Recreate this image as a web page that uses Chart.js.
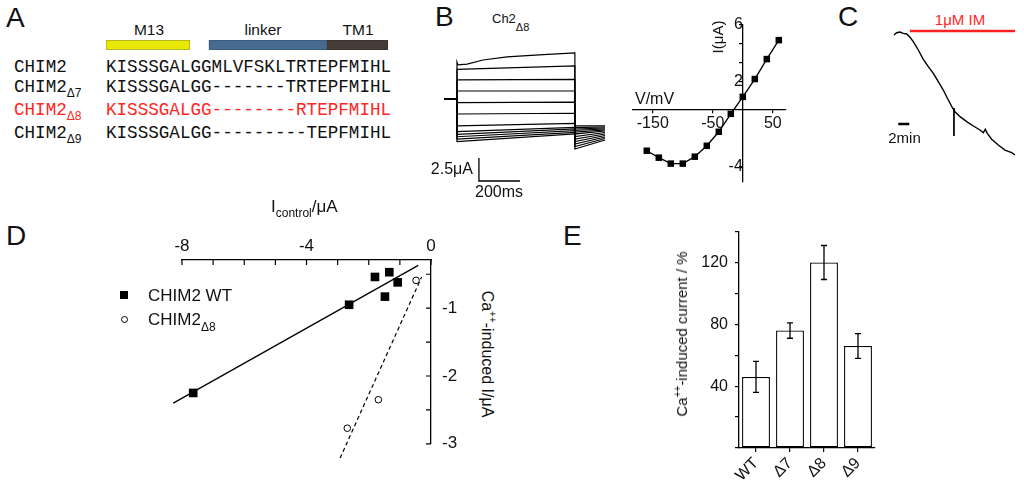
<!DOCTYPE html>
<html>
<head>
<meta charset="utf-8">
<script src="https://cdn.jsdelivr.net/npm/chart.js@4.4.1/dist/chart.umd.min.js"></script>
<style>
  body { margin: 0; background: #fff; }
  #fig { position: relative; width: 1024px; height: 486px; overflow: hidden;
         font-family: "Liberation Sans", Arial, sans-serif; color: #111; }
  #fig canvas { position: absolute; }
  .t { position: absolute; line-height: 1; white-space: nowrap; }
  .c { transform: translate(-50%, -50%); }
  .l { transform: translate(0, -50%); }
  .r { transform: translate(-100%, -50%); }
  .panel { font-size: 28px; }
  .mono { font-family: "Liberation Mono", "Courier New", monospace; font-size: 17.6px; }
  .sb { position: relative; font-family: "Liberation Sans", Arial, sans-serif; }
  .red { color: #ff2626; }
</style>
</head>
<body>
<div id="fig">
  <!-- A: alignment -->
  <div class="t l panel" style="left:6px;top:18px">A</div>
  <div class="t c" style="left:149px;top:29.5px;font-size:15.5px">M13</div>
  <div class="t c" style="left:263px;top:29.5px;font-size:15.5px">linker</div>
  <div class="t c" style="left:358px;top:29.5px;font-size:15.5px">TM1</div>
  <canvas id="cDomains" width="285" height="10" style="left:106px;top:40px"></canvas>
  <div class="t l mono" style="left:14px;top:67.5px">CHIM2</div>
  <div class="t l mono" style="left:14px;top:87.5px">CHIM2<span class="sb" style="font-size:12px;top:5px">Δ7</span></div>
  <div class="t l mono red" style="left:14px;top:110.5px">CHIM2<span class="sb" style="font-size:12px;top:5px">Δ8</span></div>
  <div class="t l mono" style="left:14px;top:133.5px">CHIM2<span class="sb" style="font-size:12px;top:5px">Δ9</span></div>
  <div class="t l mono" style="left:106px;top:67.5px">KISSSGALGGMLVFSKLTRTEPFMIHL</div>
  <div class="t l mono" style="left:106px;top:87.5px">KISSSGALGG-------TRTEPFMIHL</div>
  <div class="t l mono red" style="left:106px;top:110.5px">KISSSGALGG--------RTEPFMIHL</div>
  <div class="t l mono" style="left:106px;top:133.5px">KISSSGALGG---------TEPFMIHL</div>

  <!-- B: traces and IV -->
  <div class="t l panel" style="left:435px;top:17px">B</div>
  <div class="t l" style="left:492px;top:17.5px;font-size:13px">Ch2<span class="sb" style="font-size:11px;top:8px">Δ8</span></div>
  <canvas id="cTraces" width="180" height="145" style="left:440px;top:45px"></canvas>
  <div class="t r" style="left:473px;top:168.5px;font-size:16px">2.5μA</div>
  <div class="t l" style="left:475px;top:191.5px;font-size:16px">200ms</div>
  <canvas id="cIV" width="175" height="185" style="left:620px;top:10px"></canvas>
  <div class="t l" style="left:635px;top:99px;font-size:16px">V/mV</div>
  <div class="t c" style="left:717px;top:37px;font-size:15px;transform:translate(-50%,-50%) rotate(-90deg)">I(μA)</div>

  <!-- C: IM wash-in -->
  <div class="t l panel" style="left:838px;top:17px">C</div>
  <div class="t c red" style="left:960px;top:19px;font-size:15px">1μM IM</div>
  <canvas id="cIM" width="140" height="145" style="left:880px;top:20px"></canvas>
  <div class="t c" style="left:904.5px;top:136.5px;font-size:15px">2min</div>

  <!-- D: scatter -->
  <div class="t l panel" style="left:6px;top:236px">D</div>
  <div class="t l" style="left:271px;top:206px;font-size:17px">I<span class="sb" style="font-size:12px;top:5px">control</span>/μA</div>
  <canvas id="cD" width="320" height="240" style="left:150px;top:225px"></canvas>
  <div style="position:absolute;left:120px;top:291px;width:8px;height:8px;background:#000"></div>
  <div class="t l" style="left:148px;top:295px;font-size:17px">CHIM2 WT</div>
  <div style="position:absolute;left:120.5px;top:315.5px;width:5px;height:5px;border:1px solid #000;border-radius:50%"></div>
  <div class="t l" style="left:148px;top:318.5px;font-size:17px">CHIM2<span class="sb" style="font-size:12px;top:6px">Δ8</span></div>
  <div class="t c" style="left:488px;top:354px;font-size:16px;transform:translate(-50%,-50%) rotate(90deg)">Ca<sup style="font-size:10px">++</sup>-induced I/μA</div>

  <!-- E: bars -->
  <div class="t l panel" style="left:563px;top:236px">E</div>
  <canvas id="cE" width="230" height="271" style="left:660px;top:215px"></canvas>
  <div class="t c" style="left:681px;top:334px;font-size:15px;transform:translate(-50%,-50%) rotate(-90deg)">Ca<sup style="font-size:10px">++</sup>-induced current / %</div>
</div>

<script>
// ---- A: domain annotation, in residue positions along the alignment ----
const domainNames = ["M13", "linker", "TM1"];
const domainStart = [0, 9.75, 20.9];
const domainEnd = [7.95, 20.9, 26.7];

// ---- B: voltage-clamp traces (ms, uA) ----
const holdStart = -63;
const pulseEnd = 575;
const tailEnd = 722;
const stepStart = [4.02, 3.23, 2.07, 0.87, -0.40, -1.63, -2.93, -3.55, -3.84, -4.10, -4.35, -4.64];
const stepEnd = [5.00, 3.59, 2.14, 0.87, -0.33, -1.55, -2.64, -3.08, -3.26, -3.45, -3.62, -3.80];
const tailFrom = [-2.93, -3.10, -3.26, -3.42, -3.59, -3.80, -4.08, -4.35, -4.62, -4.89, -5.16, -5.43];
const tailTo = [-2.93, -3.04, -3.15, -3.26, -3.37, -3.48, -3.64, -3.80, -3.97, -4.13, -4.29, -4.46];
const topTraceT = [5, 49, 127, 244, 400];
const topTraceI = [3.70, 3.80, 4.24, 4.57, 4.80];

// ---- B: IV relation ----
const ivVoltage = [-160, -140, -120, -100, -80, -60, -40, -20, 0, 20, 40, 60];
const ivCurrent = [-2.89, -3.38, -3.80, -3.80, -3.31, -2.54, -1.55, -0.28, 0.92, 2.18, 3.59, 4.93];
const ivTicksV = [-150, -50, 50];
const ivTicksI = [-4, 2, 3.33, 4.67, 6];
const ivLabelsI = [-4, 2, 6];

// ---- C: current during IM application (min, normalised) ----
const imTime = [0, 0.49, 1.09, 1.69, 2.31, 2.91, 3.51, 4.42, 5.33, 6.24, 7.15, 8.05, 8.96, 9.87, 10.67,
  11.09, 12.0, 13.22, 14.42, 15.64, 16.24, 16.6, 16.96, 17.76, 18.96, 20.18, 21.4, 22.0];
const imCurrent = [0.968, 0.986, 0.992, 0.981, 0.976, 0.949, 0.914, 0.847, 0.772, 0.712, 0.659, 0.591, 0.524, 0.444, 0.377,
  0.349, 0.309, 0.269, 0.234, 0.202, 0.180, 0.207, 0.175, 0.127, 0.081, 0.040, 0.019, 0.0];
const imOn = 2.9;
const imOff = 22.0;
const markTime = 10.9;
const markRange = [0.379, 0.153];

// ---- D: Ca-induced vs control current ----
const wtControl = [-7.64, -2.63, -1.80, -1.34, -1.07, -1.48];
const wtInduced = [-2.25, -0.95, -0.54, -0.47, -0.62, -0.83];
const d8Control = [-0.48, -1.69, -2.69];
const d8Induced = [-0.59, -2.35, -2.77];
const wtFitX = [-8.28, -0.41];
const wtFitY = [-2.40, -0.37];
const d8FitX = [-2.92, -0.30];
const d8FitY = [-3.21, -0.54];
const dCtrlTicks = [-8, -7, -6, -5, -4, -3, -2, -1, 0];
const dCtrlLabels = [-8, -4, 0];
const dIndTicks = [-3, -2.5, -2, -1.5, -1, -0.5];
const dIndLabels = [-3, -2, -1];

// ---- E: Ca-induced current, % ----
const groups = ["WT", "Δ7", "Δ8", "Δ9"];
const induced = [46, 76, 120, 66];
const sem = [10, 5, 11, 8];
const eTickLabels = [40, 80, 120];

Chart.defaults.font.family = '"Liberation Sans", Arial, sans-serif';
Chart.defaults.color = '#111';
Chart.defaults.animation = false;
Chart.defaults.plugins.legend.display = false;
Chart.defaults.plugins.tooltip.enabled = false;

const pts = (xs, ys) => xs.map((x, i) => ({ x: x, y: ys[i] }));
const hidden = (min, max) => ({ type: 'linear', display: false, min: min, max: max });

// domain bars
new Chart(document.getElementById('cDomains'), {
  type: 'bar',
  data: {
    labels: ['domain'],
    datasets: domainNames.map((name, i) => ({
      label: name,
      data: [[domainStart[i], domainEnd[i]]],
      backgroundColor: ['#e8e800', '#466b8f', '#463c37'][i],
      borderColor: ['#a8a830', '#3a5775', '#3a322d'][i],
      borderWidth: 1,
      borderSkipped: false,
      barPercentage: 1,
      categoryPercentage: 1,
      grouped: false
    }))
  },
  options: {
    indexAxis: 'y',
    responsive: false,
    scales: { x: hidden(0, 27), y: { display: false } }
  }
});

// current traces
const traceSets = stepStart.map((s, k) => {
  let mid = [{ x: 0, y: s }];
  if (k === 0) mid = mid.concat(pts(topTraceT, topTraceI));
  return {
    data: [{ x: holdStart, y: 0 }, { x: 0, y: 0 }].concat(mid, [
      { x: pulseEnd, y: stepEnd[k] },
      { x: pulseEnd, y: tailFrom[k] },
      { x: tailEnd, y: tailTo[k] }
    ]),
    showLine: true, pointRadius: 0, borderColor: '#000', borderWidth: 1.2
  };
});
traceSets.push({
  // 2.5 uA / 200 ms scale bar
  data: [{ x: 107, y: -6.41 }, { x: 107, y: -8.91 }, { x: 307, y: -8.91 }],
  showLine: true, pointRadius: 0, borderColor: '#000', borderWidth: 1.3
});
new Chart(document.getElementById('cTraces'), {
  type: 'scatter',
  data: { datasets: traceSets },
  options: { responsive: false, scales: { x: hidden(-82.9, 795.1), y: hidden(-9.89, 5.87) } }
});

// IV plot
const axisGrid = { drawOnChartArea: false, tickLength: 3, color: '#000', lineWidth: 1.2 };
const axisBorder = { color: '#000', width: 1.3 };
new Chart(document.getElementById('cIV'), {
  type: 'scatter',
  data: {
    datasets: [{
      data: pts(ivVoltage, ivCurrent),
      showLine: true, borderColor: '#000', borderWidth: 1.3,
      pointStyle: 'rect', pointRadius: 4.6, pointBackgroundColor: '#000', pointBorderWidth: 0
    }]
  },
  options: {
    responsive: false,
    layout: { padding: { left: 13, right: 9, top: 15, bottom: 13 } },
    scales: {
      x: {
        type: 'linear', position: { y: 0 }, min: -183, max: 72,
        afterBuildTicks: s => { s.ticks = ivTicksV.map(v => ({ value: v })); },
        ticks: { font: { size: 16 }, padding: 1, maxRotation: 0, autoSkip: false },
        grid: axisGrid, border: axisBorder
      },
      y: {
        type: 'linear', position: { x: 0 }, min: -5.1, max: 6,
        afterBuildTicks: s => { s.ticks = ivTicksI.map(v => ({ value: v })); },
        ticks: { font: { size: 16 }, padding: 2, autoSkip: false,
          callback: v => ivLabelsI.includes(v) ? String(v) : '' },
        grid: axisGrid, border: axisBorder
      }
    }
  }
});

// IM trace
new Chart(document.getElementById('cIM'), {
  type: 'scatter',
  data: {
    datasets: [
      { data: pts(imTime, imCurrent), showLine: true, pointRadius: 0, borderColor: '#000', borderWidth: 1.4 },
      { data: [{ x: markTime, y: markRange[0] }, { x: markTime, y: markRange[1] }],
        showLine: true, pointRadius: 0, borderColor: '#000', borderWidth: 1 },
      { data: [{ x: imOn, y: 1.0 }, { x: imOff, y: 1.0 }],
        showLine: true, pointRadius: 0, borderColor: '#ff2020', borderWidth: 2.5 },
      { data: [{ x: 0.78, y: 0.25 }, { x: 2.78, y: 0.25 }],
        showLine: true, pointRadius: 0, borderColor: '#000', borderWidth: 2.5 }
    ]
  },
  options: { responsive: false, scales: { x: hidden(-2.545, 22.91), y: hidden(-0.0806, 1.0887) } }
});

// inward tick marks for panel D
const inwardTicks = {
  id: 'inwardTicks',
  afterDraw(chart) {
    const { ctx, chartArea, scales } = chart;
    ctx.save();
    ctx.strokeStyle = '#000';
    ctx.lineWidth = 1.2;
    ctx.beginPath();
    scales.x.ticks.forEach(t => {
      const px = scales.x.getPixelForValue(t.value);
      ctx.moveTo(px, chartArea.top);
      ctx.lineTo(px, chartArea.top + 5);
    });
    scales.y.ticks.forEach(t => {
      const py = scales.y.getPixelForValue(t.value);
      ctx.moveTo(chartArea.right, py);
      ctx.lineTo(chartArea.right - 5, py);
    });
    ctx.stroke();
    ctx.restore();
  }
};

new Chart(document.getElementById('cD'), {
  type: 'scatter',
  data: {
    datasets: [
      { data: pts(wtControl, wtInduced), pointStyle: 'rect', pointRadius: 6.1,
        pointBackgroundColor: '#000', pointBorderWidth: 0, clip: false },
      { data: pts(d8Control, d8Induced), pointStyle: 'circle', pointRadius: 3.3,
        pointBackgroundColor: '#fff', pointBorderColor: '#000', pointBorderWidth: 1, clip: false },
      { data: pts(wtFitX, wtFitY), showLine: true, pointRadius: 0,
        borderColor: '#000', borderWidth: 1.3, clip: false },
      { data: pts(d8FitX, d8FitY), showLine: true, pointRadius: 0,
        borderColor: '#000', borderWidth: 1.2, borderDash: [4, 3], clip: false }
    ]
  },
  options: {
    responsive: false,
    layout: { padding: { left: 32, bottom: 21 } },
    scales: {
      x: {
        type: 'linear', position: 'top', min: -8, max: 0,
        afterBuildTicks: s => { s.ticks = dCtrlTicks.map(v => ({ value: v })); },
        afterFit: s => { s.height = 35; },
        ticks: { font: { size: 17 }, padding: 3, autoSkip: false, maxRotation: 0,
          callback: v => dCtrlLabels.includes(v) ? String(v) : '' },
        grid: { drawOnChartArea: false, drawTicks: false },
        border: axisBorder
      },
      y: {
        type: 'linear', position: 'right', min: -3, max: -0.29,
        afterBuildTicks: s => { s.ticks = dIndTicks.map(v => ({ value: v })); },
        afterFit: s => { s.width = 39; },
        ticks: { font: { size: 17 }, padding: 11, autoSkip: false,
          callback: v => dIndLabels.includes(v) ? String(v) : '' },
        grid: { drawOnChartArea: false, drawTicks: false },
        border: axisBorder
      }
    }
  },
  plugins: [inwardTicks]
});

// error bars for panel E
const errorBars = {
  id: 'errorBars',
  afterDatasetsDraw(chart) {
    const { ctx } = chart;
    const y = chart.scales.y;
    ctx.save();
    ctx.strokeStyle = '#000';
    ctx.lineWidth = 1.3;
    chart.getDatasetMeta(0).data.forEach((bar, i) => {
      const hi = y.getPixelForValue(induced[i] + sem[i]);
      const lo = y.getPixelForValue(induced[i] - sem[i]);
      ctx.beginPath();
      ctx.moveTo(bar.x, hi); ctx.lineTo(bar.x, lo);
      ctx.moveTo(bar.x - 3, hi); ctx.lineTo(bar.x + 3, hi);
      ctx.moveTo(bar.x - 3, lo); ctx.lineTo(bar.x + 3, lo);
      ctx.stroke();
    });
    ctx.restore();
  }
};

new Chart(document.getElementById('cE'), {
  type: 'bar',
  data: {
    labels: groups,
    datasets: [{
      data: induced, backgroundColor: '#fff', borderColor: '#000', borderWidth: 1.3,
      borderSkipped: false, barPercentage: 0.82, categoryPercentage: 1
    }]
  },
  options: {
    responsive: false,
    layout: { padding: { left: 30, top: 12, right: 15, bottom: 0 } },
    scales: {
      x: {
        afterFit: s => { s.height = 38; },
        ticks: { font: { size: 16 }, minRotation: 45, maxRotation: 45, padding: 2, autoSkip: false },
        grid: { offset: false, drawOnChartArea: false, tickLength: 4, color: '#000', lineWidth: 1.2 },
        border: axisBorder
      },
      y: {
        min: 0, max: 140,
        afterFit: s => { s.width = 49; },
        ticks: { stepSize: 20, font: { size: 16 }, padding: 7,
          callback: v => eTickLabels.includes(v) ? String(v) : '' },
        grid: { drawOnChartArea: false, tickLength: 4, color: '#000', lineWidth: 1.2 },
        border: axisBorder
      }
    }
  },
  plugins: [errorBars]
});
</script>
</body>
</html>
